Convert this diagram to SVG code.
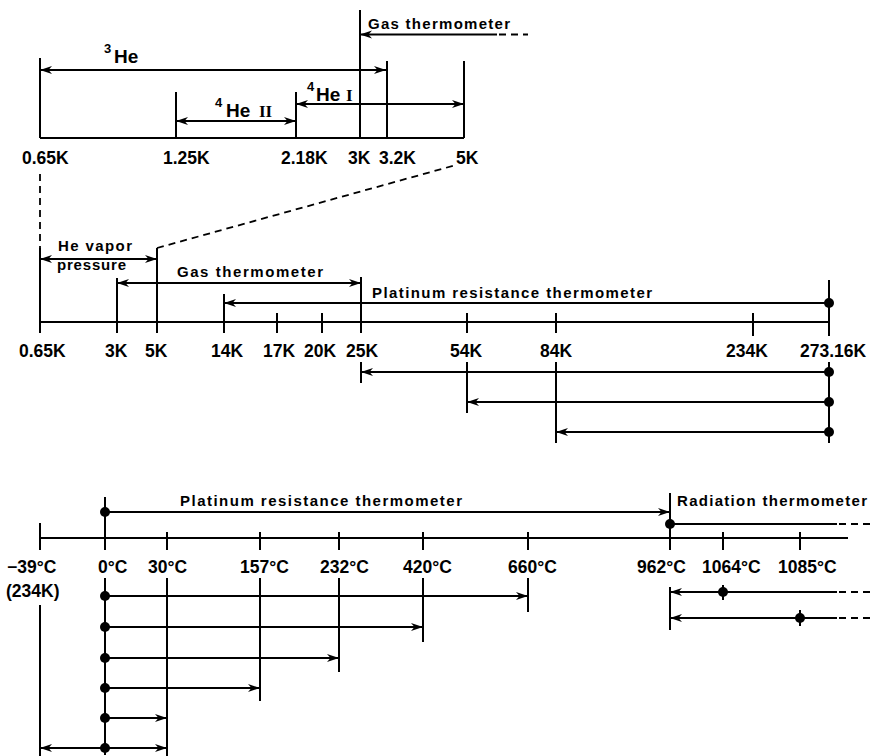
<svg xmlns="http://www.w3.org/2000/svg" width="872" height="756" viewBox="0 0 872 756">
<style>
.l{stroke:#000;stroke-width:2;fill:none}
.d{stroke:#000;stroke-width:1.8;fill:none;stroke-dasharray:7,5}
.t{font-family:"Liberation Sans",Arial,sans-serif;font-weight:bold;font-size:17.5px;fill:#000}
.s{font-family:"Liberation Sans",Arial,sans-serif;font-weight:bold;font-size:15px;fill:#000}
.he{font-family:"Liberation Sans",Arial,sans-serif;font-weight:bold;font-size:19px;fill:#000}
.sup{font-family:"Liberation Sans",Arial,sans-serif;font-weight:bold;font-size:13px;fill:#000}
.rn{font-family:"Liberation Serif","Times New Roman",serif;font-weight:bold;font-size:17px;fill:#000}
.dot{fill:#000}
</style>
<defs>
<marker id="ah" markerUnits="userSpaceOnUse" markerWidth="14" markerHeight="10" refX="12" refY="4" orient="auto-start-reverse">
<path d="M0,0 L12,4 L0,8 L3.5,4 Z" fill="#000"/>
</marker>
</defs>

<g id="top-scale">
<path class="l" d="M40,138 H464 M40,58 V138 M176,92 V138 M296,92 V138 M360,10 V138 M387,61 V138 M464,61 V138"/>
<text class="t" x="22" y="164">0.65K</text>
<text class="t" x="163" y="164">1.25K</text>
<text class="t" x="281" y="164">2.18K</text>
<text class="t" x="348" y="164">3K</text>
<text class="t" x="379" y="164">3.2K</text>
<text class="t" x="456" y="164">5K</text>
</g>
<g id="he3">
<text class="sup" x="104" y="53">3</text>
<text class="he" x="114" y="63">He</text>
</g>
<g id="he4-II">
<text class="sup" x="215" y="107">4</text>
<text class="he" x="226" y="117">He</text>
<text class="rn" x="259" y="117">II</text>
</g>
<g id="he4-I">
<text class="sup" x="307" y="91">4</text>
<text class="he" x="316" y="101">He</text>
<text class="rn" x="346" y="101">I</text>
</g>
<g id="gas-top">
<text class="s" x="368" y="29" textLength="142" lengthAdjust="spacing">Gas thermometer</text>
</g>

<g id="mid-scale">
<path class="l" d="M40,322 H829 M40,248 V333 M117,278 V333 M157,248 V333 M224,294 V333 M277,313 V333 M322,313 V333 M361,277 V333 M467,313 V333 M556,313 V333 M753,313 V336 M829,280 V336"/>
<text class="t" x="19" y="357">0.65K</text>
<text class="t" x="105" y="357">3K</text>
<text class="t" x="145" y="357">5K</text>
<text class="t" x="211" y="357">14K</text>
<text class="t" x="263" y="357">17K</text>
<text class="t" x="304" y="357">20K</text>
<text class="t" x="346" y="357">25K</text>
<text class="t" x="450" y="357">54K</text>
<text class="t" x="540" y="357">84K</text>
<text class="t" x="726" y="357">234K</text>
<text class="t" x="800" y="357">273.16K</text>
</g>
<g id="he-vapor">
<text class="s" x="58" y="251" textLength="74" lengthAdjust="spacing">He vapor</text>
<text class="s" x="57" y="270" textLength="69" lengthAdjust="spacing">pressure</text>
</g>
<g id="gas-mid">
<text class="s" x="177" y="277" textLength="146" lengthAdjust="spacing">Gas thermometer</text>
</g>
<g id="pt-mid">
<text class="s" x="372" y="298" textLength="280" lengthAdjust="spacing">Platinum resistance thermometer</text>
</g>

<g id="bottom-scale">
<path class="l" d="M40,538 H848 M40,523 V550 M105,497 V550 M167,532 V550 M260,532 V550 M339,532 V550 M423,532 V550 M528,532 V550 M670,493 V550 M723,532 V550 M800,532 V550"/>
<text class="t" x="7" y="573">−39°C</text>
<text class="t" x="98" y="573">0°C</text>
<text class="t" x="148" y="573">30°C</text>
<text class="t" x="240" y="573">157°C</text>
<text class="t" x="320" y="573">232°C</text>
<text class="t" x="403" y="573">420°C</text>
<text class="t" x="508" y="573">660°C</text>
<text class="t" x="637" y="573">962°C</text>
<text class="t" x="702" y="573">1064°C</text>
<text class="t" x="778" y="573">1085°C</text>
<text class="t" x="6" y="597">(234K)</text>
</g>
<g id="pt-bottom">
<text class="s" x="180" y="506" textLength="282" lengthAdjust="spacing">Platinum resistance thermometer</text>
</g>
<g id="radiation">
<text class="s" x="677" y="506" textLength="190" lengthAdjust="spacing">Radiation thermometer</text>
</g>

<g id="connectors">
<path class="l" d="M40,70 H386" marker-start="url(#ah)" marker-end="url(#ah)"/>
<path class="l" d="M176,121 H296" marker-start="url(#ah)" marker-end="url(#ah)"/>
<path class="l" d="M296,104 H464" marker-start="url(#ah)" marker-end="url(#ah)"/>
<path class="l" d="M497,34.5 H360" marker-end="url(#ah)"/>
<path class="d" d="M499,34.5 H528"/>
<path class="d" d="M40,174 V248"/>
<path class="d" d="M157,248 L456,165"/>
<path class="l" d="M40,259 H157" marker-start="url(#ah)" marker-end="url(#ah)"/>
<path class="l" d="M117,283 H361" marker-start="url(#ah)" marker-end="url(#ah)"/>
<path class="l" d="M829,303 H224" marker-end="url(#ah)"/>
<path class="l" d="M361,362 V383 M467,362 V413 M556,362 V443 M829,362 V443"/>
<path class="l" d="M829,372 H361" marker-end="url(#ah)"/>
<path class="l" d="M829,402 H467" marker-end="url(#ah)"/>
<path class="l" d="M829,432 H556" marker-end="url(#ah)"/>
<circle class="dot" cx="829" cy="303" r="5"/>
<circle class="dot" cx="829" cy="372" r="5"/>
<circle class="dot" cx="829" cy="402" r="5"/>
<circle class="dot" cx="829" cy="432" r="5"/>
<path class="l" d="M105,512 H670" marker-end="url(#ah)"/>
<circle class="dot" cx="105" cy="512" r="5"/>
<path class="l" d="M670,524 H837"/>
<path class="d" d="M839,524 H872"/>
<circle class="dot" cx="670" cy="524" r="5"/>
<path class="l" d="M105,578 V755 M167,578 V756 M260,578 V701 M339,578 V672 M423,578 V642 M528,578 V612 M40,605 V756"/>
<path class="l" d="M105,596 H528" marker-end="url(#ah)"/>
<path class="l" d="M105,627 H423" marker-end="url(#ah)"/>
<path class="l" d="M105,658 H339" marker-end="url(#ah)"/>
<path class="l" d="M105,688 H260" marker-end="url(#ah)"/>
<path class="l" d="M105,718 H167" marker-end="url(#ah)"/>
<path class="l" d="M40,748 H167" marker-start="url(#ah)" marker-end="url(#ah)"/>
<circle class="dot" cx="105" cy="596" r="5"/>
<circle class="dot" cx="105" cy="627" r="5"/>
<circle class="dot" cx="105" cy="658" r="5"/>
<circle class="dot" cx="105" cy="688" r="5"/>
<circle class="dot" cx="105" cy="718" r="5"/>
<circle class="dot" cx="105" cy="748" r="5"/>
<path class="l" d="M670,587 V630 M723,585 V600 M800,610 V626"/>
<path class="l" d="M837,592 H670" marker-end="url(#ah)"/>
<path class="l" d="M837,618 H670" marker-end="url(#ah)"/>
<path class="d" d="M839,592 H872 M839,618 H872"/>
<circle class="dot" cx="723" cy="592" r="5"/>
<circle class="dot" cx="800" cy="618" r="5"/>
</g>
</svg>
